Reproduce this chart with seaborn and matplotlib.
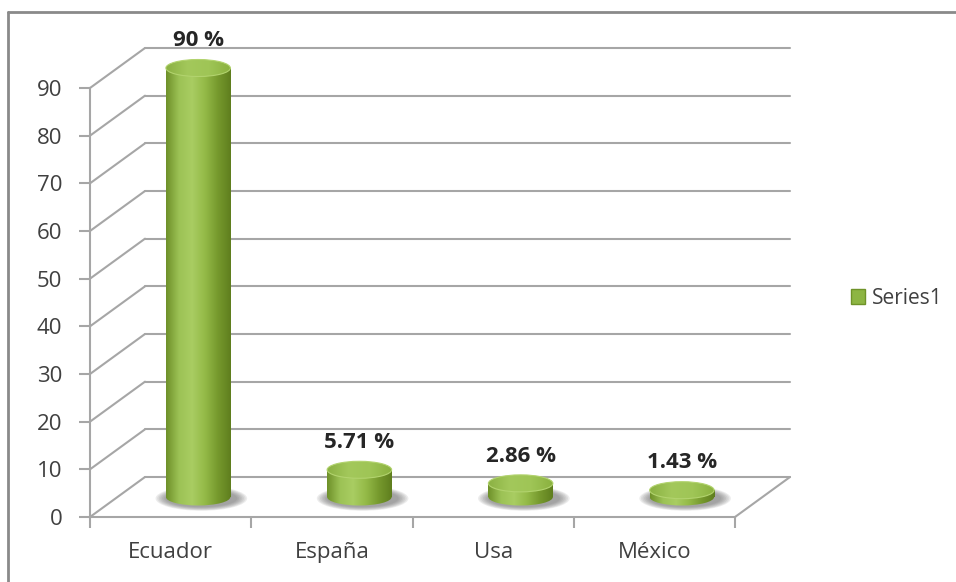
import matplotlib
matplotlib.use("Agg")
import matplotlib.pyplot as plt
import numpy as np
import pandas as pd
import seaborn as sns
from matplotlib.colors import LinearSegmentedColormap
from matplotlib.patches import Ellipse, Patch

countries = ["Ecuador", "España", "Usa", "México"]
percent = [90, 5.71, 2.86, 1.43]
y_ticks = [0, 10, 20, 30, 40, 50, 60, 70, 80, 90]
series_name = "Series1"

sns.set_style("white")
plt.rcParams["font.family"] = ["Open Sans", "DejaVu Sans"]

W, H = 956, 582
fig = plt.figure(figsize=(W / 100, H / 100), dpi=100)
# axes = front plane of the 3d box
ax = fig.add_axes([90 / W, 1 - 517 / H, 645 / W, 429 / H])

df = pd.DataFrame({"country": countries, "pct": percent})
sns.barplot(data=df, x="country", y="pct", width=0.4, color="#8db543", ax=ax)
ax.set_xlim(-0.5, 3.5)
ax.set_ylim(0, 90)

# depth offset of the back wall (in data units)
dx, dy = 55 * 4 / 645, 40 * 90 / 429
ell_h = 17 * 90 / 429

body_cmap = LinearSegmentedColormap.from_list(
    "body", ["#6e9029", "#9cc255", "#a9cd62", "#94ba48", "#76992d", "#5f7e1e"])
top_cmap = LinearSegmentedColormap.from_list(
    "top", ["#8bb143", "#a3c85b", "#9fc556", "#8ab13f"])
grad = np.linspace(0, 1, 256)[None, :]

# back wall + floor lines
gc = "#a6a6a6"
for v in y_ticks:
    ax.plot([-0.5, -0.5 + dx], [v, v + dy], color=gc, lw=1.5, clip_on=False, zorder=0)
    ax.plot([-0.5 + dx, 3.5 + dx], [v + dy, v + dy], color=gc, lw=1.5, clip_on=False, zorder=0)
ax.plot([3.5, 3.5 + dx], [0, dy], color=gc, lw=1.5, clip_on=False, zorder=0)

for i, bar in enumerate(ax.patches):
    val = percent[i]
    w = bar.get_width()
    x0 = bar.get_x() + dx / 2
    base = dy / 2
    bar.set_x(x0)
    bar.set_y(base)
    bar.set_facecolor("none")
    bar.set_edgecolor("none")
    bar.set_clip_on(False)
    cx = x0 + w / 2

    # soft shadow on the floor
    for k in range(7):
        sh = Ellipse((cx + 0.02, base - 0.3), w * (1.42 - k * 0.05), ell_h * (1.45 - k * 0.07),
                     facecolor="#6a6a6a", edgecolor="none", alpha=0.12, zorder=1)
        ax.add_patch(sh)

    im = ax.imshow(grad, cmap=body_cmap, aspect="auto", zorder=2,
                   extent=(x0, x0 + w, base - ell_h, base + val))
    im.set_clip_path(bar)

    bottom = Ellipse((cx, base), w, ell_h, facecolor="none", edgecolor="none")
    ax.add_patch(bottom)
    im2 = ax.imshow(grad, cmap=body_cmap, aspect="auto", zorder=2,
                    extent=(x0, x0 + w, base - ell_h, base + val))
    im2.set_clip_path(bottom)

    top = Ellipse((cx, base + val), w, ell_h, facecolor="none",
                  edgecolor="#b2d36e", lw=0.8, clip_on=False, zorder=4)
    ax.add_patch(top)
    im3 = ax.imshow(grad, cmap=top_cmap, aspect="auto", zorder=3,
                    extent=(x0, x0 + w, base + val - ell_h, base + val + ell_h))
    im3.set_clip_path(top)
    im3.set_clip_box(fig.bbox)

    ax.annotate(f"{val:g} %", (cx, base + val + ell_h / 2), xytext=(0, 6),
                textcoords="offset points", ha="center", va="bottom",
                fontsize=16, fontweight="bold", color="#262626",
                annotation_clip=False, zorder=5)

ax.set_xlim(-0.5, 3.5)
ax.set_ylim(0, 90)
ax.set_yticks(y_ticks)
ax.set_xticks(range(len(countries)), countries)
ax.set_xticks(np.arange(-0.5, 4, 1), minor=True)
ax.set_xlabel("")
ax.set_ylabel("")
sns.despine(ax=ax)
for s in ["left", "bottom"]:
    ax.spines[s].set_color(gc)
    ax.spines[s].set_linewidth(1.5)
ax.tick_params(axis="y", length=8, width=1.5, color=gc, pad=12,
               labelsize=16, labelcolor="#404040", left=True)
ax.tick_params(axis="x", which="major", length=0, pad=18,
               labelsize=16, labelcolor="#404040")
ax.tick_params(axis="x", which="minor", length=8, width=1.5, color=gc, bottom=True)

# outer chart border (top and left visible)
fig.add_artist(plt.Line2D([8 / W, 1], [1 - 12 / H, 1 - 12 / H], color="#8a8a8a", lw=2))
fig.add_artist(plt.Line2D([8 / W, 8 / W], [0, 1 - 12 / H], color="#8a8a8a", lw=2))

fig.legend(handles=[Patch(facecolor="#8db543", edgecolor="#6f9329")], labels=[series_name],
           loc="center left", bbox_to_anchor=(832 / W, 1 - 298 / H), frameon=False,
           handlelength=0.7, handleheight=0.7, handletextpad=0.3, fontsize=15,
           labelcolor="#404040")

fig.savefig("out.png", dpi=100)
